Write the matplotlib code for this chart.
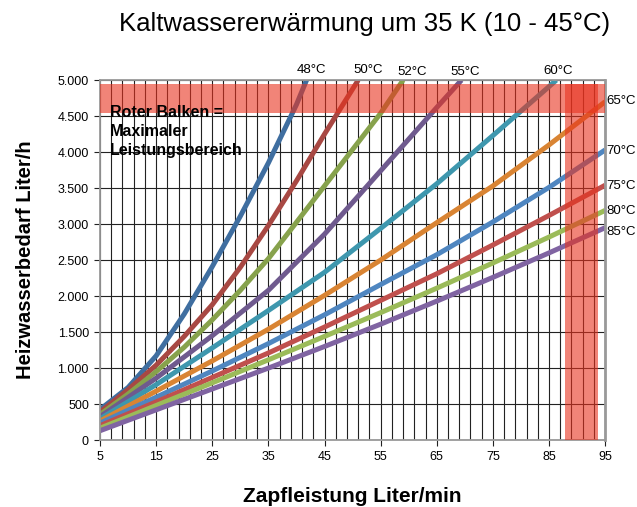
import numpy as np
import matplotlib.pyplot as plt
from matplotlib.ticker import MultipleLocator, FuncFormatter

plt.rcParams['font.family'] = ['Liberation Sans', 'DejaVu Sans']

# Vorlauftemperaturen und Kurven (Zapfleistung L/min -> Heizwasserbedarf L/h)
temps = ["48°C", "50°C", "52°C", "55°C", "60°C", "65°C", "70°C", "75°C", "80°C", "85°C"]

x_full = [5, 15, 25, 35, 45, 55, 65, 75, 85, 95]

x_48 = [5, 10, 15, 20, 25, 30, 35, 40, 41.8]
y_48 = [425, 730, 1170, 1750, 2410, 3110, 3850, 4660, 5000]
x_50 = [5, 10, 15, 20, 25, 30, 35, 40, 45, 51]
y_50 = [390, 700, 1040, 1440, 1880, 2400, 2980, 3600, 4250, 5000]
x_52 = [5, 10, 15, 20, 25, 30, 35, 45, 55, 59]
y_52 = [355, 640, 950, 1290, 1670, 2080, 2520, 3530, 4540, 5000]
x_55 = [5, 15, 25, 35, 45, 55, 65, 69.4]
y_55 = [325, 860, 1450, 2080, 2860, 3740, 4620, 5000]
x_60 = [5, 15, 25, 35, 45, 55, 65, 75, 85, 86.3]
y_60 = [295, 770, 1280, 1800, 2330, 2940, 3560, 4230, 4910, 5000]
y_65 = [265, 680, 1100, 1540, 2010, 2500, 3020, 3530, 4100, 4700]
y_70 = [235, 595, 960, 1340, 1740, 2160, 2575, 3030, 3510, 4030]
y_75 = [200, 530, 870, 1210, 1570, 1940, 2310, 2710, 3120, 3540]
y_80 = [165, 480, 795, 1115, 1440, 1770, 2110, 2460, 2820, 3190]
y_85 = [130, 420, 710, 1000, 1300, 1610, 1930, 2260, 2600, 2950]

xs = [x_48, x_50, x_52, x_55, x_60, x_full, x_full, x_full, x_full, x_full]
ys = [y_48, y_50, y_52, y_55, y_60, y_65, y_70, y_75, y_80, y_85]

colors = ["#3F6EA0", "#A84843", "#87A24C", "#6F5A8E", "#3E97AE",
          "#D98433", "#4F86C0", "#C0504D", "#9BBB59", "#8064A2"]

# Beschriftungspositionen der Kurven
label_pos = [(42.7, 5140), (52.7, 5140), (60.7, 5110), (70.1, 5110), (86.7, 5125),
             (95.2, 4710), (95.2, 4015), (95.2, 3530), (95.2, 3180), (95.2, 2890)]

fig = plt.figure(figsize=(6.37, 5.07), dpi=100)
ax = fig.add_axes([0.157, 0.132, 0.793, 0.710])

for x, y, c in zip(xs, ys, colors):
    ax.plot(x, y, color=c, lw=3.6, solid_capstyle='butt', zorder=2)

for i, (t, (lx, ly)) in enumerate(zip(temps, label_pos)):
    ha = 'center' if i < 5 else 'left'
    ax.text(lx, ly, t, fontsize=9.5, ha=ha, va='center', clip_on=False)

# roter Balken
ax.axhspan(4540, 4950, color='#E8321E', alpha=0.6, lw=0, zorder=3)
ax.axvspan(87.8, 93.8, ymin=0, ymax=4950 / 5000, color='#E8321E', alpha=0.6, lw=0, zorder=3)

ax.text(6.8, 4650, "Roter Balken =\nMaximaler\nLeistungsbereich", fontsize=11.5,
        fontweight='bold', va='top', ha='left', linespacing=1.3, zorder=4)

ax.set_xlim(5, 95)
ax.set_ylim(0, 5000)
ax.set_xticks(np.arange(5, 96, 10))
ax.set_xticks(np.arange(5, 96, 2), minor=True)
ax.yaxis.set_major_locator(MultipleLocator(500))
ax.yaxis.set_major_formatter(FuncFormatter(lambda v, p: f"{int(v):,}".replace(",", ".")))

ax.grid(True, which='both', axis='x', color='#222222', lw=0.8, zorder=0)
ax.grid(True, which='major', axis='y', color='#222222', lw=0.8, zorder=0)
ax.set_axisbelow(True)

ax.tick_params(axis='both', which='major', labelsize=9, length=4, color='#222222', pad=4)
ax.tick_params(axis='x', which='minor', length=0)

for s in ax.spines.values():
    s.set_color('#999999')
    s.set_linewidth(1.3)
ax.spines['right'].set_linewidth(2)

ax.set_xlabel("Zapfleistung Liter/min", fontsize=15, fontweight='bold', labelpad=17)
ax.set_ylabel("Heizwasserbedarf Liter/h", fontsize=14.5, fontweight='bold', labelpad=16)

fig.text(0.573, 0.953, "Kaltwassererwärmung um 35 K (10 - 45°C)", fontsize=18.5,
         ha='center', va='center')

fig.savefig("out.png", dpi=100)
